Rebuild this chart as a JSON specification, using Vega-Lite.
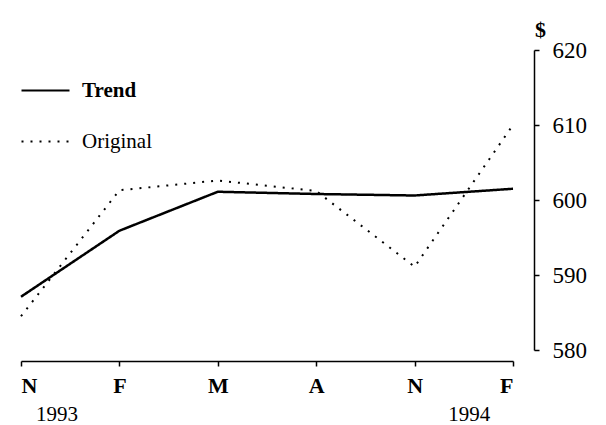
{
  "$schema": "https://vega.github.io/schema/vega-lite/v6.json",
  "autosize": {"type": "none"},
  "padding": {"left": 21, "top": 50, "right": 93, "bottom": 75},
  "width": 492,
  "height": 300,
  "background": "white",
  "config": {
    "view": {"stroke": null},
    "font": "Liberation Serif",
    "axis": {"grid": false, "domainColor": "black", "tickColor": "black", "labelColor": "black", "titleColor": "black", "domainWidth": 1.5, "tickWidth": 1.5}
  },
  "datasets": {
    "trend": [
      {"i": 0, "month": "N", "series": "Trend", "value": 587.1},
      {"i": 1, "month": "F", "series": "Trend", "value": 595.9},
      {"i": 2, "month": "M", "series": "Trend", "value": 601.1},
      {"i": 3, "month": "A", "series": "Trend", "value": 600.8},
      {"i": 4, "month": "N", "series": "Trend", "value": 600.6},
      {"i": 5, "month": "F", "series": "Trend", "value": 601.5}
    ],
    "original": [
      {"i": 0, "month": "N", "series": "Original", "value": 584.5},
      {"i": 1, "month": "F", "series": "Original", "value": 601.3},
      {"i": 2, "month": "M", "series": "Original", "value": 602.6},
      {"i": 3, "month": "A", "series": "Original", "value": 601.2},
      {"i": 4, "month": "N", "series": "Original", "value": 591.1},
      {"i": 5, "month": "F", "series": "Original", "value": 610.0}
    ]
  },
  "layer": [
    {
      "data": {"name": "trend"},
      "mark": {"type": "line", "color": "black", "strokeWidth": 2.5},
      "encoding": {
        "x": {
          "field": "i", "type": "quantitative",
          "scale": {"domain": [0, 5], "nice": false, "zero": false},
          "axis": {"orient": "bottom", "title": null, "values": [0, 1, 2, 3, 4, 5], "labelExpr": "['N','F','M','A','N','F'][datum.value]", "offset": 11, "tickSize": 5, "labelPadding": 9, "labelFontSize": 22, "labelFontWeight": "bold", "labelFont": "Liberation Serif"}
        },
        "y": {
          "field": "value", "type": "quantitative",
          "scale": {"domain": [580, 620], "nice": false, "zero": false},
          "axis": {"orient": "right", "title": "$", "titleAngle": 0, "titleX": 6, "titleY": -14, "titleAlign": "center", "titleBaseline": "alphabetic", "titleFontSize": 22, "titleFontWeight": "bold", "titleFont": "Liberation Serif", "values": [580, 590, 600, 610, 620], "offset": 21, "tickSize": 5, "labelPadding": 13, "labelFontSize": 23, "labelFont": "Liberation Serif", "labelFontWeight": "normal"}
        },
        "strokeDash": {
          "field": "series", "type": "nominal",
          "scale": {"domain": ["Trend", "Original"], "range": [[1, 0], [2, 7]]},
          "legend": {"orient": "none", "legendX": -1, "legendY": 15, "title": null, "symbolType": "stroke", "symbolSize": 2304, "symbolStrokeColor": "black", "symbolStrokeWidth": 2.2, "labelFontSize": 21, "labelFont": "Liberation Serif", "labelColor": "black", "labelOffset": 11, "rowPadding": 15,
            "encode": {"labels": {"update": {"fontWeight": {"signal": "datum.value === 'Trend' ? 'bold' : 'normal'"}}}}}
        }
      }
    },
    {
      "data": {"name": "original"},
      "mark": {"type": "line", "color": "black", "strokeWidth": 2},
      "encoding": {
        "x": {
          "field": "i", "type": "quantitative",
          "scale": {"domain": [0, 5], "nice": false, "zero": false},
          "axis": {"orient": "bottom", "title": null, "values": [0.36, 4.55], "labelExpr": "datum.value < 2 ? '1993' : '1994'", "offset": 11, "domain": false, "ticks": false, "labelPadding": 42, "labelFontSize": 21, "labelFont": "Liberation Serif", "labelFontWeight": "normal"}
        },
        "y": {"field": "value", "type": "quantitative"},
        "strokeDash": {"field": "series", "type": "nominal"}
      }
    }
  ],
  "resolve": {"scale": {"x": "independent"}}
}
